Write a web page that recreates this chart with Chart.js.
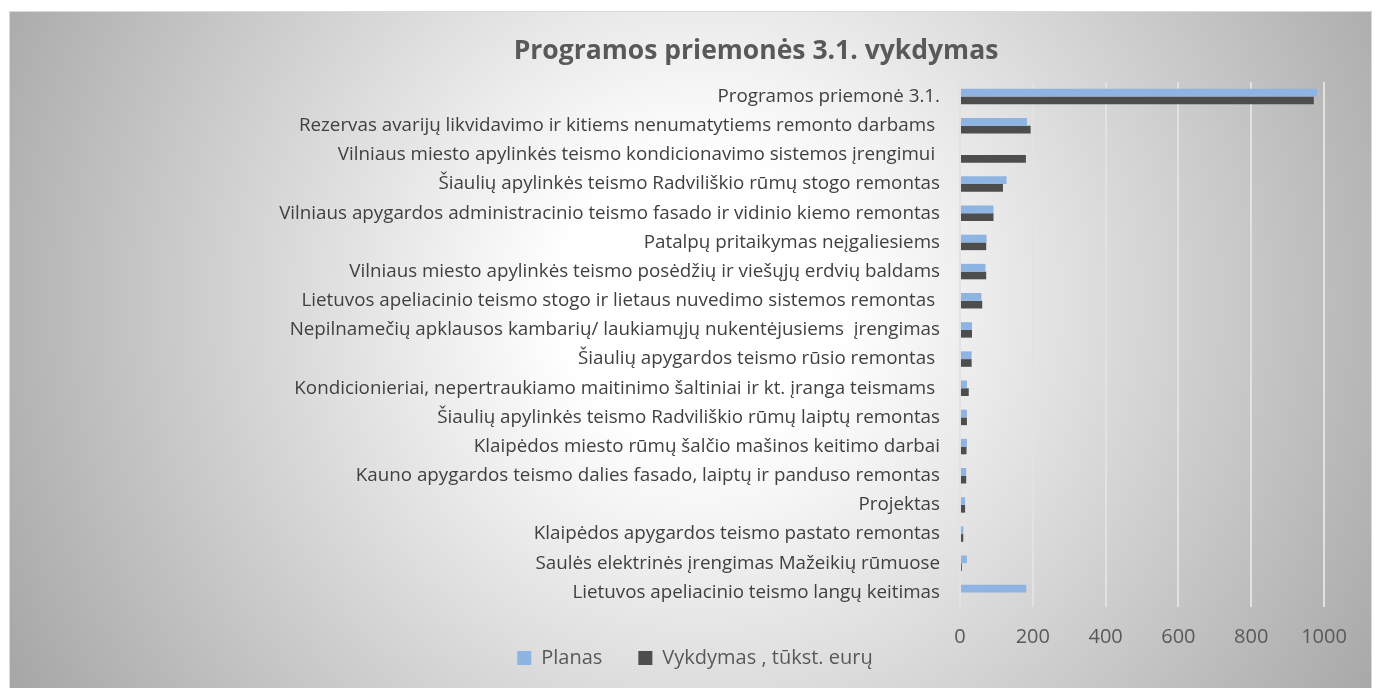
<!DOCTYPE html>
<html lang="lt">
<head>
  <meta charset="UTF-8">
  <title>Programos priemonės 3.1. vykdymas</title>
  <script src="https://cdn.jsdelivr.net/npm/chart.js"></script>
  <style>
    html, body { margin: 0; padding: 0; background: #fff; }
    #frame {
      position: absolute; left: 9px; top: 11px; width: 1363px; height: 690px;
      box-sizing: border-box; border: 1px solid #d9d9d9;
      background: radial-gradient(circle 790px at 691px 289px, #ffffff 18%, #a6a6a6 100%);
    }
    #wrap { position: absolute; left: 0; top: 0; width: 1376px; height: 688px; }
  </style>
  <script>
    addEventListener("DOMContentLoaded", init);

    const chartTitle = "Programos priemonės 3.1. vykdymas";

    const categories = [
      "Programos priemonė 3.1.",
      "Rezervas avarijų likvidavimo ir kitiems nenumatytiems remonto darbams ",
      "Vilniaus miesto apylinkės teismo kondicionavimo sistemos įrengimui ",
      "Šiaulių apylinkės teismo Radviliškio rūmų stogo remontas",
      "Vilniaus apygardos administracinio teismo fasado ir vidinio kiemo remontas",
      "Patalpų pritaikymas neįgaliesiems",
      "Vilniaus miesto apylinkės teismo posėdžių ir viešųjų erdvių baldams",
      "Lietuvos apeliacinio teismo stogo ir lietaus nuvedimo sistemos remontas ",
      "Nepilnamečių apklausos kambarių/ laukiamųjų nukentėjusiems  įrengimas",
      "Šiaulių apygardos teismo rūsio remontas ",
      "Kondicionieriai, nepertraukiamo maitinimo šaltiniai ir kt. įranga teismams ",
      "Šiaulių apylinkės teismo Radviliškio rūmų laiptų remontas",
      "Klaipėdos miesto rūmų šalčio mašinos keitimo darbai",
      "Kauno apygardos teismo dalies fasado, laiptų ir panduso remontas",
      "Projektas",
      "Klaipėdos apygardos teismo pastato remontas",
      "Saulės elektrinės įrengimas Mažeikių rūmuose",
      "Lietuvos apeliacinio teismo langų keitimas"
    ];

    // tūkst. eurų
    const planas   = [981, 184, 0, 128, 92, 73, 70, 59, 33, 32, 19, 19, 19, 17, 14, 9, 19, 182];
    const vykdymas = [972, 194, 181, 118, 92, 72, 72, 61, 33, 32, 24, 19, 18, 17, 14, 9, 5, 0];

    const seriesNames = ["Planas", "Vykdymas , tūkst. eurų"];
    const xMin = 0, xMax = 1000, xStep = 200;

    const layoutTweaks = {
      id: "layoutTweaks",
      afterLayout(chart) {
        // legend shares the row under the tick labels, as in Excel
        const lg = chart.legend;
        lg.top = chart.chartArea.bottom + 5;
        lg.bottom = chart.height;
        lg.height = lg.bottom - lg.top;
      },
      afterDraw(chart) {
        // title sits right of the legend centre, so draw it here
        const ctx = chart.ctx;
        ctx.save();
        ctx.font = "bold 26.5px 'Open Sans'";
        ctx.fillStyle = "#595959";
        ctx.textAlign = "center";
        ctx.textBaseline = "middle";
        ctx.fillText(chartTitle, 756, 51);
        ctx.restore();
      }
    };

    function init() {
      let ctx = document.getElementById("myCanvas");
      new Chart(ctx, {
        type: "bar",
        data: {
          labels: categories,
          datasets: [{
            label: seriesNames[0],
            data: planas,
            backgroundColor: "#8db4e2"
          }, {
            label: seriesNames[1],
            data: vykdymas,
            backgroundColor: "#4d4d4d"
          }]
        },
        options: {
          indexAxis: "y",
          responsive: true,
          maintainAspectRatio: false,
          animation: false,
          layout: { padding: { left: 66, right: 52, top: 82, bottom: -9 } },
          datasets: { bar: { categoryPercentage: 0.53, barPercentage: 1 } },
          scales: {
            x: {
              min: xMin,
              max: xMax,
              ticks: {
                stepSize: xStep, color: "#595959", padding: 18,
                font: { family: "Open Sans", size: 20 },
                callback: v => String(v)
              },
              grid: { color: "#e2e2e2", lineWidth: 2, drawTicks: false },
              border: { display: false }
            },
            y: {
              ticks: { color: "#404040", font: { family: "Open Sans", size: 18.8 }, padding: 20, autoSkip: false },
              grid: { display: false, drawTicks: false },
              border: { display: false },
              afterFit: s => { s.width = 894; }
            }
          },
          plugins: {
            title: { display: false },
            tooltip: { enabled: false },
            legend: {
              position: "bottom",
              maxHeight: 30,
              labels: {
                boxWidth: 14, boxHeight: 14, padding: 36,
                color: "#595959",
                font: { family: "Open Sans", size: 20 }
              }
            }
          }
        },
        plugins: [layoutTweaks]
      });
    }
  </script>
</head>
<body>
  <div id="frame"></div>
  <div id="wrap"><canvas id="myCanvas"></canvas></div>
</body>
</html>
